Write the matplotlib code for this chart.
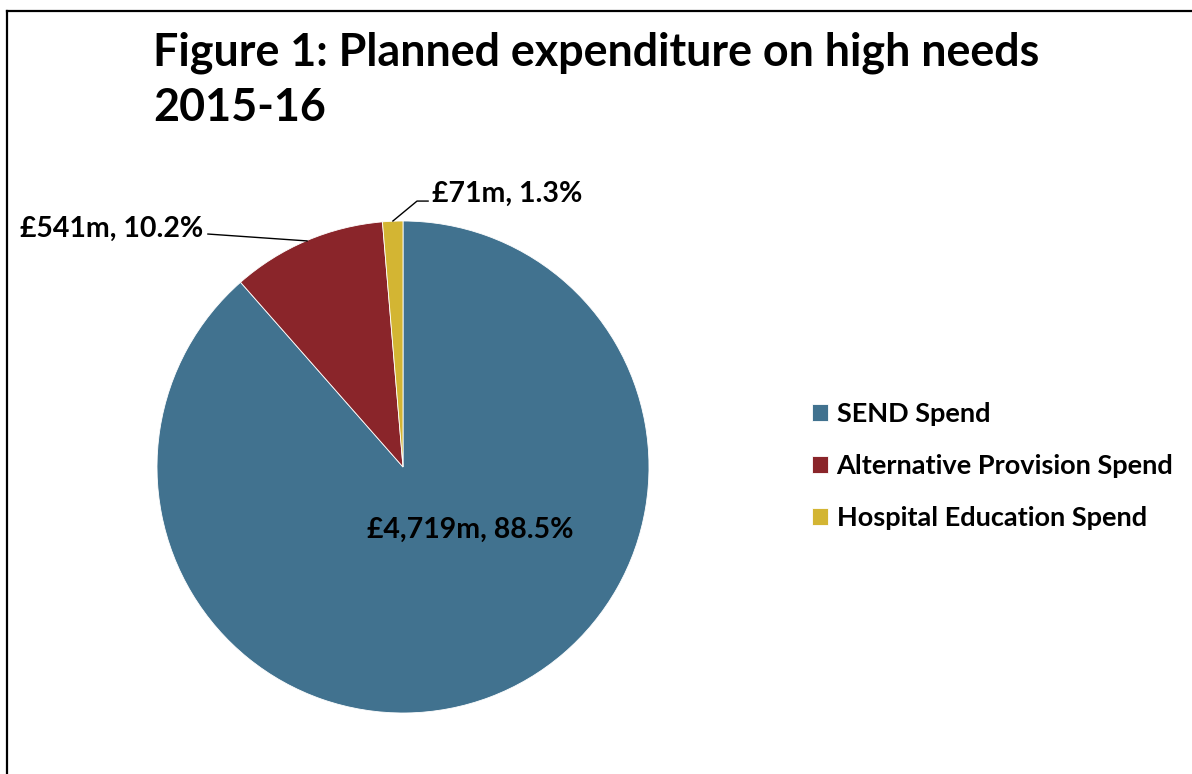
import matplotlib.pyplot as plt
from matplotlib.lines import Line2D

plt.rcParams['font.family'] = ['Lato', 'DejaVu Sans']
plt.rcParams['font.weight'] = 'bold'

categories = ['SEND Spend', 'Alternative Provision Spend', 'Hospital Education Spend']
spend_m = [4719, 541, 71]
labels = ['£4,719m, 88.5%', '£541m, 10.2%', '£71m, 1.3%']
colors = ['#41728F', '#8A252A', '#D3B533']

W, H = 1192, 774
fig = plt.figure(figsize=(W / 100, H / 100), dpi=100)

# frame (only left and top edges visible in the crop)
fig.add_artist(Line2D([7 / W, 7 / W], [0, 1 - 11 / H], color='black', lw=1.6, transform=fig.transFigure))
fig.add_artist(Line2D([7 / W, 1], [1 - 11 / H, 1 - 11 / H], color='black', lw=1.6, transform=fig.transFigure))

fig.text(153 / W, 1 - 65 / H, 'Figure 1: Planned expenditure on high needs',
         fontsize=32.3, fontweight='bold', va='baseline', ha='left')
fig.text(153 / W, 1 - 121 / H, '2015-16',
         fontsize=32.3, fontweight='bold', va='baseline', ha='left')

# pie: centre (403, 467) px, radius 246 px
cx, cy, r = 403, 467, 246
ax = fig.add_axes([(cx - r) / W, (H - cy - r) / H, 2 * r / W, 2 * r / H])
wedges, _ = ax.pie(spend_m, colors=colors, startangle=90, counterclock=False,
                   radius=1, wedgeprops=dict(linewidth=0.6, edgecolor='white'))
ax.set_xlim(-1, 1)
ax.set_ylim(-1, 1)
ax.set_aspect('equal')
ax.axis('off')

fs = 20.5
ax.text(0.272, -0.255, labels[0], ha='center', va='center', fontsize=fs, fontweight='bold')

ax.plot([-0.39, -0.793], [0.919, 0.947], color='black', lw=1, clip_on=False)
ax.text(-0.81, 0.968, labels[1], ha='right', va='center', fontsize=fs, fontweight='bold')

ax.plot([-0.041, 0.057, 0.102], [1.0, 1.081, 1.081], color='black', lw=1, clip_on=False)
ax.text(0.118, 1.11, labels[2], ha='left', va='center', fontsize=fs, fontweight='bold')

lfs = 19.5
fig.legend(wedges, categories, loc='center left', bbox_to_anchor=(812 / W, 1 - 466 / H),
           frameon=False, borderpad=0, borderaxespad=0, handlelength=0.59, handleheight=0.59,
           handletextpad=0.32, labelspacing=1.02, prop=dict(weight='bold', size=lfs))

fig.savefig('out.png', dpi=100)
